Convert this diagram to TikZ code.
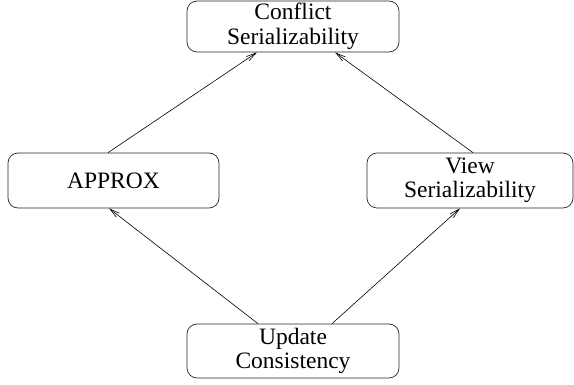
\documentclass[tikz,border=0pt]{standalone}
\usepackage{fontspec}
\setmainfont{Liberation Serif}
\usetikzlibrary{arrows.meta}
\tikzset{class node/.style={rectangle,rounded corners=10pt,draw=black!85,line width=0.7pt,align=center,inner sep=0pt,font=\fontsize{23.5}{24.5}\selectfont},
         imp edge/.style={draw=black,line width=0.6pt,-{Straight Barb[length=10pt,width=5pt]}}
}
\begin{document}
\begin{tikzpicture}[x=1pt,y=1pt]
\useasboundingbox (0,0) rectangle (574,385);
% \draw[help lines,step=50] (0,0) grid (574,385);
\node[class node,minimum width=212pt,minimum height=51pt] (conf) at (293,358.5) {Conflict\\Serializability};
\node[class node,minimum width=211pt,minimum height=55pt] (appr) at (113.5,204.5) {APPROX};
\node[class node,minimum width=206pt,minimum height=55pt] (view) at (470,204.5) {View\\Serializability};
\node[class node,minimum width=212pt,minimum height=54pt] (upd) at (293,34) {Update\\Consistency};

\draw[imp edge] ([xshift=-35pt]upd.north) -- ([xshift=-4.5pt]appr.south);
\draw[imp edge] ([xshift=39pt]upd.north) -- ([xshift=-10pt]view.south);
\draw[imp edge] ([xshift=-5.5pt]appr.north) -- ([xshift=-36pt]conf.south);
\draw[imp edge] ([xshift=3pt]view.north) -- ([xshift=42pt]conf.south);
\end{tikzpicture}
\end{document}
